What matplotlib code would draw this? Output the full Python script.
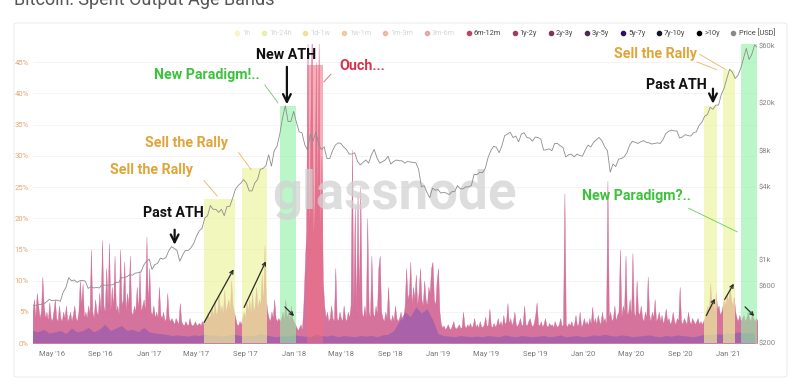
import pandas as pd
import matplotlib.pyplot as plt
from matplotlib.lines import Line2D
from matplotlib.patches import FancyBboxPatch

plt.rcParams['font.family'] = ['Roboto', 'DejaVu Sans']

# ---- data ----
# weekly BTC price (USD), starting Monday 2016-03-14
price_usd = [
    415, 412, 416, 420, 423, 440, 462, 450, 455, 454, 445, 530, 580, 700, 660, 670, 640, 660, 665, 655,
    570, 590, 575, 580, 575, 610, 608, 605, 608, 612, 640, 640, 700, 700, 715, 740, 735, 765, 770, 780,
    890, 960,
    1000, 820, 900, 920, 1020, 1000, 1030, 1170, 1270, 1230, 1180, 960, 1080, 1180, 1180, 1240, 1350, 1550,
    1720, 1800, 2200, 2300, 2800, 2600, 2600, 2450, 2600, 2300, 2750, 2750, 3200, 3800, 4100, 4300, 4600,
    4300, 3700, 3700, 4300, 4600, 5600, 5700, 6000, 7400, 5950, 8000, 8700, 11000, 15000, 19000, 14000, 14000,
    17000, 13800, 11500, 11300, 9000, 8100, 11000, 9600, 11500, 9000, 8200, 8600, 6900, 6900, 8000, 8900,
    9300, 9200, 8600, 8200, 7500, 7500, 7700, 6500, 6100, 6400, 6700, 6300, 7400, 8200, 7000, 6300, 6500,
    6700, 7200, 6200, 6500, 6700, 6600, 6600, 6300, 6500, 6450, 6400, 6350, 5600, 4000, 4100, 3600, 3250,
    3900, 3750, 3800,
    3550, 3600, 3550, 3450, 3650, 3650, 4100, 3850, 3850, 4000, 4000, 4100, 5100, 5050, 5300, 5250, 5700,
    7000, 8000, 8700, 8550, 7700, 8800, 10700, 11000, 11400, 10300, 10600, 9500, 11000, 11300, 10300, 10200,
    9600, 10400, 10300, 10000, 8100, 8150, 8300, 8000, 9200, 9200, 8800, 8500, 7100, 7400, 7500, 7100, 7500,
    7300, 7200,
    8100, 8900, 8600, 9400, 9900, 10300, 9700, 8600, 8000, 5300, 6200, 5900, 6800, 6900, 7100, 7700, 8900,
    9600, 9400, 9200, 9500, 9700, 9400, 9300, 9100, 9200, 9300, 9200, 9900, 11100, 11600, 11900, 11700,
    11700, 10200, 10400, 10900, 10700, 10600, 11300, 11500, 13000, 13800, 15500, 16000, 18400, 17700, 19200,
    19200, 23500, 26500, 32000,
    38300, 36000, 32000, 34000, 39000, 47000, 57000, 46000, 51000, 61000, 58000,
]

# spent output age bands, visible stack top (%), every 3.5 days from 2016-03-14
stack_top = [
    5, 7, 4, 8, 6, 4, 5, 10.6, 6, 4, 5, 3.5, 6.5, 4, 3.5, 5, 7, 4, 3.5, 6,
    4, 3.5, 5, 4, 6, 3.5, 4, 5, 3.5, 4.5, 6, 4, 3.5, 5, 10, 6, 9.5, 4, 5, 4,
    6, 4.5, 15, 5, 4, 7, 5, 4.5, 8, 5, 16.5, 6, 5, 12, 6, 16, 5, 9, 5.5, 14,
    5, 6, 4.5, 15, 6, 7, 13, 5, 8, 6, 14, 5, 4.5, 6, 5, 9, 5, 11.7, 5, 6,
    7, 5, 17, 6, 12, 5, 4.5, 6, 4, 5, 4, 9, 4.5, 4, 5, 3.5, 4, 8, 4, 3.5,
    4, 3.5, 3, 4, 3.5, 3, 6.4, 3.5, 3, 2.8, 3.5, 3, 2.8, 4, 3, 2.8, 3, 3.5, 2.8, 3, 3.2, 2.8, 3.5, 3,
    4, 3.5, 5, 4, 4.5, 6, 4, 7, 4.5, 5, 8, 5, 6, 4.5, 8.5, 5, 6, 7, 5, 10, 6, 5, 4,
    3, 2.8, 3.5, 3,
    4, 5, 4, 6.5, 5, 7, 4.5, 8, 5, 6, 9, 5.5, 7, 6, 11, 6, 15.7, 7, 5,
    4, 3.5, 5, 4, 7, 4, 3.5, 4,
    3.5, 4, 5, 3.5, 7, 4, 5, 3.5, 6, 4, 3.5, 3,
    2.5, 2, 2.5, 3, 2, 6, 12,
    18, 48, 14, 35, 50, 16, 22, 45, 20, 48, 15, 30, 10,
    6, 4, 5, 3.5, 4, 6, 4, 3.5, 12, 4, 3.5, 5, 4, 3.5, 6, 4, 3.5, 5, 4, 6,
    31, 5, 22, 4, 24, 6, 25, 5, 4, 6, 4, 20, 5, 4, 14, 5, 4, 6, 4.5, 12,
    14, 5, 4, 3.5, 5, 4, 9, 4, 3.5, 4.5, 3.5, 6, 4, 3.5, 4, 5, 3.5, 4,
    6, 12, 7, 8, 13, 6, 9, 7, 11, 6, 8, 12, 7, 6, 10, 7, 6, 9, 8, 12, 13, 7, 6, 10, 12, 5,
    3, 2.5, 2.8, 2.2, 2.5, 3, 2.4, 2.2, 2.8, 3.5, 2.5, 2.3, 2.6, 3, 2.4, 2.5, 5, 2.8, 2.4, 3,
    2.6, 3.2, 2.5, 2.8, 4, 2.6, 3, 2.4, 3.5, 2.7, 2.5, 3, 4.2, 2.6, 3, 5.5, 2.8, 2.5, 3.2, 2.6,
    3, 4, 2.8, 3.5, 2.6, 4.5, 3, 3.5, 6.4, 3, 4, 2.8, 3.5, 5, 3, 2.7, 3.2, 4, 2.8, 3,
    6, 3, 2.8, 3.5, 4, 3, 2.6, 3.2, 4.5, 6.5, 3, 2.8, 3.5, 2.6, 3, 4, 2.8, 2.6, 3.2, 2.8,
    3, 2.5, 3.5, 2.8, 2.6, 3, 4, 2.7, 3, 24, 3, 2.6, 3.2, 2.8, 3.5, 2.6, 3, 4.5, 2.8, 3, 5, 2.6, 3, 4,
    3, 3.5, 2.8, 4, 3, 5.8, 3.2, 4, 3, 4.5, 3.5, 3, 5, 3.5, 4, 3, 26, 4, 5, 3.5,
    4, 6, 3.5, 4.5, 5, 15, 4, 6, 5, 14, 4.5, 5, 7, 4, 14.4, 5, 4, 10, 5, 4.5,
    6, 4, 3.5, 5, 4, 10.6, 4.5, 3.5, 5, 4, 7, 3.5, 4, 5, 3.5, 4.5, 3, 4, 5.5, 3.5,
    4, 3, 3.5, 5, 3.5, 3, 4, 3.5, 9, 3.5, 3, 4, 3.5, 3, 5, 3.5, 3, 4, 3.5, 3, 3.5, 4, 3, 3.5, 3, 3.5, 4,
    5, 6, 4.5, 9.6, 6, 7, 5, 8, 5.5, 6,
    4.5, 5, 6,
    7, 6, 8, 6.5, 9, 7, 6, 7.5, 5,
    4, 3.5, 4.5, 3.5,
    4, 4.5, 3.5, 4, 5, 4, 3.5, 4.5, 4, 3.5, 4, 3.5,
]

# older coins (purple base of the stack, %), every 14 days from 2016-03-14
stack_old = [
    2, 1.8, 2.2, 1.6, 1.8, 2, 1.5, 2.4, 1.8, 2, 2.5, 1.8, 2.2, 3, 2, 2.4, 2.8, 2, 2.2, 1.8,
    2.5, 1.8, 1.6, 1.5, 1.4, 1.2, 1.3, 1.2, 1.1, 1.3, 1.2, 1.4, 1.2, 1.3, 1.1, 1.2, 1.4, 1.3, 1.1, 1.2,
    1.2, 1.5, 1.3, 1.1, 1.0, 1.2, 1.1, 1.3, 1.2, 1.1, 1.0, 1.4, 1.2, 1.1, 1.3, 1.0, 1.2, 1.1, 1.0, 1.2,
    1.1, 1.2, 1.0, 1.3, 1.4, 2.0, 3.5, 5.0, 4.2, 5.8, 4.8, 5.5, 3.8, 1.5, 1.2, 1.1, 1.0, 1.2, 1.1, 1.0,
    1.1, 1.0, 1.2, 1.1, 1.0, 1.3, 1.1, 1.0, 1.2, 1.1, 1.0, 1.1, 1.2, 1.0, 1.1, 1.3, 1.0, 1.1, 1.2, 1.0,
    1.1, 1.3, 1.2, 1.4, 1.2, 1.1, 1.3, 1.2, 1.0, 1.1, 1.2, 1.3, 1.1, 1.0, 1.2, 1.1, 1.3, 1.2, 1.1, 1.0,
    1.2, 1.4, 1.3, 1.5, 1.4, 1.6, 1.5, 1.8, 1.6, 1.7, 1.5,
]

# highlighted periods
band_start = ['2017-05-20', '2017-08-24', '2017-11-27', '2018-02-03', '2020-11-01', '2020-12-19', '2021-02-02']
band_end = ['2017-08-06', '2017-10-26', '2018-01-07', '2018-03-16', '2020-12-04', '2021-01-18', '2021-03-14']
band_top = [23, 28, 38, 44.5, 38, 43.7, 48]
band_kind = ['sell', 'sell', 'new', 'ouch', 'sell', 'sell', 'new']

legend_names = ['1h', '1h-24h', '1d-1w', '1w-1m', '1m-3m', '3m-6m', '6m-12m', '1y-2y',
                '2y-3y', '3y-5y', '5y-7y', '7y-10y', '>10y', 'Price [USD]']
legend_colors = ['#f3ee9c', '#d6e06c', '#e6c24e', '#dea050', '#d6805c', '#cc6060', '#c04462',
                 '#a23c5c', '#7a3858', '#4c2a52', '#2c1262', '#141424', '#000000', '#8a8a8a']
legend_hidden = 6  # first six bands are switched off

price_ticks = [200, 600, 1000, 4000, 8000, 20000, 60000]
price_labels = ['$200', '$600', '$1k', '$4k', '$8k', '$20k', '$60k']

# ---- figure ----
fig = plt.figure(figsize=(8, 3.9), dpi=100)
card = FancyBboxPatch((14 / 800, 1 - 377 / 390), 773 / 800, 354 / 390,
                      boxstyle='round,pad=0,rounding_size=0.005',
                      transform=fig.transFigure, fc='white', ec='#ececec', lw=0.8, zorder=-10)
fig.add_artist(card)
fig.text(14 / 800, 1 - 5 / 390, 'Bitcoin: Spent Output Age Bands', fontsize=13,
         color='#555555', va='baseline', ha='left')

ax = fig.add_axes([33 / 800, 1 - 343 / 390, 724 / 800, 299.5 / 390])
ax.set_facecolor('none')

t_top = pd.date_range('2016-03-14', periods=len(stack_top), freq='84h')
t_old = pd.date_range('2016-03-14', periods=len(stack_old), freq='14D')
t_price = pd.date_range('2016-03-14', periods=len(price_usd), freq='7D')

ax.fill_between(t_top, 0, stack_top, color='#cf5b8c', lw=0.3, alpha=0.85, zorder=1)
ax.fill_between(t_old, 0, stack_old, color='#9a5cae', lw=0, alpha=0.75, zorder=2)

band_colors = {'sell': ('#ecf59a', 0.65), 'new': ('#8ef0a4', 0.6), 'ouch': ('#ee6e80', 0.55)}
for s, e, top, k in zip(band_start, band_end, band_top, band_kind):
    c, a = band_colors[k]
    ax.fill_between(pd.to_datetime([s, e]), 0, top, color=c, alpha=a, lw=0, zorder=3)

ax.set_xlim(pd.Timestamp('2016-03-15'), pd.Timestamp('2021-03-14'))
ax.set_ylim(0, 48)
ax.set_yticks(range(0, 50, 5))
ax.set_yticklabels([f'{v}%' for v in range(0, 50, 5)])
xt = pd.date_range('2016-05-01', '2021-01-01', freq='4MS')
ax.set_xticks(xt)
ax.set_xticklabels([d.strftime("%b '%y") for d in xt])
ax.tick_params(axis='both', length=0, labelsize=5.5)
ax.tick_params(axis='y', labelcolor='#e3a673', pad=3)
ax.tick_params(axis='x', labelcolor='#777777', pad=6)
ax.grid(axis='y', color='#f3f3f3', lw=0.6, zorder=0)
ax.set_axisbelow(True)
for sp in ax.spines.values():
    sp.set_visible(False)

ax.text(0.5, 1 - (195 - 44) / 299.5, 'glassnode', transform=ax.transAxes, ha='center', va='center',
        fontsize=38, fontweight='bold', color='#d2d2d2', alpha=0.75, zorder=4)

# price on log axis
ax2 = ax.twinx()
ax2.plot(t_price, price_usd, color='#8c8c8c', lw=0.6, zorder=6)
ax2.set_yscale('log')
ax2.set_ylim(200, 62600)
ax2.set_yticks(price_ticks)
ax2.set_yticklabels(price_labels)
ax2.minorticks_off()
ax2.tick_params(axis='y', length=0, labelsize=5.5, labelcolor='#888888', pad=1)
for sp in ax2.spines.values():
    sp.set_visible(False)

# ---- annotations ----
def d(s):
    return pd.Timestamp(s)

bold = dict(fontsize=10.3, fontweight='bold', ha='center', va='center', zorder=8)
orange = '#e0a53a'
green = '#3cc23c'
red = '#d8324a'

ax2.text(d('2017-03-05'), 10 ** (2.301 + (343 - 213) / 120), 'Past ATH', color='#111111', **bold)
ax2.text(d('2017-01-08'), 10 ** (2.301 + (343 - 170) / 120), 'Sell the Rally', color=orange, **bold)
ax2.text(d('2017-04-05'), 10 ** (2.301 + (343 - 143) / 120), 'Sell the Rally', color=orange, **bold)
ax2.text(d('2017-05-27'), 10 ** (2.301 + (343 - 75) / 120), 'New Paradigm!..', color=green, **bold)
ax2.text(d('2017-12-12'), 10 ** (2.301 + (343 - 55) / 120), 'New ATH', color='#111111', **bold)
ax2.text(d('2018-06-22'), 10 ** (2.301 + (343 - 66) / 120), 'Ouch...', color=red, **bold)
ax2.text(d('2020-06-30'), 10 ** (2.301 + (343 - 54) / 120), 'Sell the Rally', color=orange, **bold)
ax2.text(d('2020-08-22'), 10 ** (2.301 + (343 - 85) / 120), 'Past ATH', color='#111111', **bold)
ax2.text(d('2020-05-13'), 10 ** (2.301 + (343 - 196) / 120), 'New Paradigm?..', color=green, **bold)

# (start, end) in (date, percent); style
pointers = [
    (('2017-03-07', 18.6), ('2017-03-07', 15.3), 'big'),
    (('2017-12-15', 44.7), ('2017-12-15', 37.8), 'big'),
    (('2020-11-23', 41.2), ('2020-11-23', 37.9), 'big'),
    (('2017-05-15', 26.4), ('2017-06-27', 23.2), orange),
    (('2017-08-11', 30.9), ('2017-09-20', 27.4), orange),
    (('2017-10-16', 41.7), ('2017-11-27', 38.1), green),
    (('2018-04-10', 43.4), ('2018-03-13', 41.5), red),
    (('2020-10-14', 46.5), ('2020-12-31', 43.6), orange),
    (('2020-10-07', 45.2), ('2020-12-10', 43.6), orange),
    (('2020-09-16', 21.8), ('2021-01-30', 17.6), green),
    (('2017-05-17', 2.9), ('2017-08-06', 12.2), 'small'),
    (('2017-08-26', 5.3), ('2017-10-26', 13.5), 'small'),
    (('2017-12-05', 6.1), ('2018-01-07', 4.0), 'small'),
    (('2020-11-03', 4.0), ('2020-12-01', 7.5), 'small'),
    (('2020-12-19', 6.6), ('2021-01-18', 9.9), 'small'),
    (('2021-02-07', 6.1), ('2021-03-12', 4.0), 'small'),
]
for (s, sy), (e, ey), style in pointers:
    if style == 'big':
        props = dict(arrowstyle='->', color='#111111', lw=1.6, mutation_scale=14)
    elif style == 'small':
        props = dict(arrowstyle='->', color='#2a2a2a', lw=0.9, mutation_scale=6)
    else:
        props = dict(arrowstyle='-', color=style, lw=0.6, alpha=0.8)
    ax2.annotate('', xy=(d(e), 10 ** (2.301 + ey * 6.24 / 120)),
                 xytext=(d(s), 10 ** (2.301 + sy * 6.24 / 120)), arrowprops=props, zorder=7)

# ---- legend ----
handles = [Line2D([], [], marker='o', ls='', markersize=3, color=c) for c in legend_colors]
leg = fig.legend(handles, legend_names, loc='upper right', bbox_to_anchor=(778 / 800, 1 - 27 / 390),
                 ncol=len(legend_names), frameon=False, fontsize=5.3, handlelength=0.6,
                 handletextpad=0.4, columnspacing=1.55, borderaxespad=0)
for i, (txt, h) in enumerate(zip(leg.get_texts(), leg.legend_handles)):
    if i < legend_hidden:
        txt.set_color('#d6d6d6')
        h.set_alpha(0.45)
    else:
        txt.set_color('#444444')

plt.savefig('out.png', dpi=100)
